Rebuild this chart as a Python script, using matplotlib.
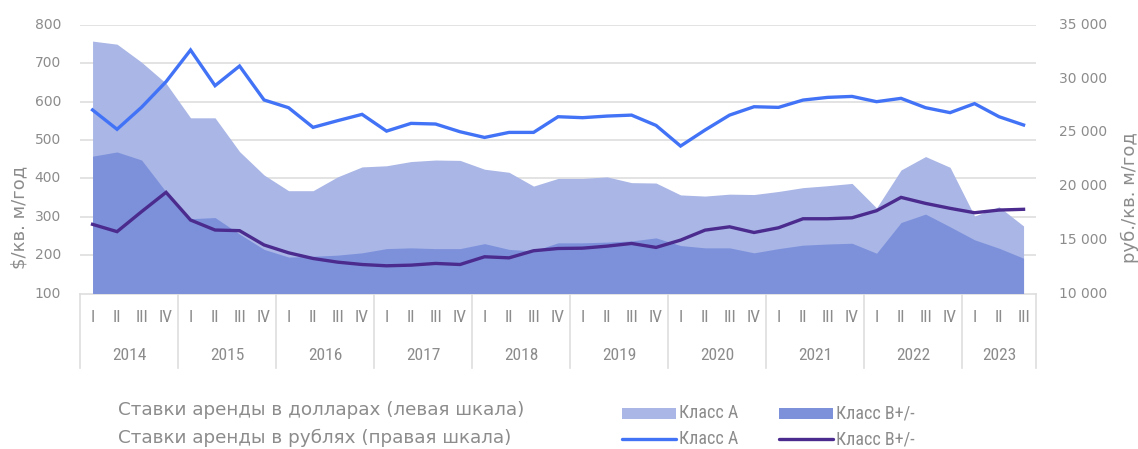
import matplotlib
matplotlib.use("Agg")
import matplotlib.pyplot as plt
from matplotlib.patches import Rectangle
from matplotlib.lines import Line2D
from matplotlib.transforms import blended_transform_factory
import numpy as np

years = [2014, 2015, 2016, 2017, 2018, 2019, 2020, 2021, 2022, 2023]
quarter_names = ["I", "II", "III", "IV"]
quarters_per_year = [4, 4, 4, 4, 4, 4, 4, 4, 4, 3]

usd_class_a = [758, 750, 703, 648, 558, 558, 470, 409, 368, 368,
               404, 430, 433, 444, 448, 447, 424, 416, 380, 400,
               400, 404, 389, 388, 357, 354, 359, 358, 366, 376,
               381, 387, 323, 422, 457, 429, 302, 326, 276]
usd_class_b = [458, 469, 448, 365, 295, 298, 255, 215, 195, 197,
               200, 206, 217, 219, 217, 217, 230, 215, 211, 232,
               232, 234, 237, 245, 225, 219, 219, 206, 217, 226,
               229, 231, 205, 285, 307, 274, 240, 218, 192]
rub_class_a = [27090, 25290, 27340, 29720, 32670, 29350, 31180, 28020, 27300, 25470,
               26090, 26680, 25120, 25840, 25780, 25060, 24530, 25000, 25000, 26460,
               26370, 26520, 26610, 25650, 23730, 25220, 26610, 27390, 27330, 28010,
               28260, 28350, 27860, 28170, 27300, 26840, 27680, 26460, 25690]
rub_class_b = [16440, 15760, 17620, 19420, 16840, 15910, 15850, 14520, 13790, 13260,
               12920, 12700, 12580, 12640, 12800, 12700, 13420, 13320, 13980, 14190,
               14220, 14410, 14660, 14290, 14970, 15900, 16210, 15680, 16120, 16960,
               16960, 17050, 17710, 18950, 18390, 17930, 17520, 17770, 17840]

left_ticks = [100, 200, 300, 400, 500, 600, 700, 800]
right_ticks = [10000, 15000, 20000, 25000, 30000, 35000]

legend_row1 = "Ставки аренды в долларах (левая шкала)"
legend_row2 = "Ставки аренды в рублях (правая шкала)"
series_names = ["Класс А", "Класс В+/-"]
left_label = "$/кв. м/год"
right_label = "руб./кв. м/год"

C_LIGHT = "#A9B6E6"
C_DARK = "#7D91DB"
C_BLUE = "#4273F7"
C_PURPLE = "#4B2B8E"
C_TEXT = "#8C8C8C"
C_GRID = "#DEDEDE"

NARROW = ["Roboto Condensed", "DejaVu Sans"]
WIDE = ["DejaVu Sans"]

W, H = 1138, 449
fig = plt.figure(figsize=(W / 100, H / 100), dpi=100)
ax_l, ax_r, ax_t, ax_b = 80.3, 1035.8, 25, 293.5
ax = fig.add_axes([ax_l / W, 1 - ax_b / H, (ax_r - ax_l) / W, (ax_b - ax_t) / H])


def fx(px):
    return px / W


def fy(py):
    return 1 - py / H


n = len(usd_class_a)
x = np.arange(n)

ax.set_ylim(100, 800)
ax.set_xlim(-0.5, n - 0.5)
ax.fill_between(x, usd_class_a, 100, color=C_LIGHT, lw=0, zorder=2)
ax.fill_between(x, usd_class_b, 100, color=C_DARK, lw=0, zorder=3)
for v in left_ticks[1:]:
    ax.axhline(v, color=C_GRID, lw=1.2, zorder=1)
ax.set_yticks([])
ax.set_xticks([])
for s in ["top", "left", "right", "bottom"]:
    ax.spines[s].set_visible(False)

ax2 = ax.twinx()
ax2.set_ylim(10000, 35000)
ax2.set_xlim(-0.5, n - 0.5)
ax2.plot(x, rub_class_a, color=C_BLUE, lw=2.4, solid_joinstyle="miter", zorder=5)
ax2.plot(x, rub_class_b, color=C_PURPLE, lw=2.4, solid_joinstyle="miter", zorder=5)
ax2.set_yticks([])
for s in ["top", "left", "right", "bottom"]:
    ax2.spines[s].set_visible(False)

# tick labels placed by data value through each axis' own scale
tl = blended_transform_factory(fig.transFigure, ax.transData)
for v in left_ticks:
    fig.text(fx(61), v, str(v), transform=tl, ha="right", va="center",
             fontsize=10, color=C_TEXT, family=WIDE)
tr = blended_transform_factory(fig.transFigure, ax2.transData)
for v in right_ticks:
    fig.text(fx(1059), v, f"{v:,}".replace(",", " "), transform=tr, ha="left", va="center",
             fontsize=10, color=C_TEXT, family=WIDE)

fig.text(fx(19), fy(217), left_label, fontsize=13, color=C_TEXT, family=WIDE,
         rotation=90, ha="center", va="center")
fig.text(fx(1130), fy(198), right_label, fontsize=13, color=C_TEXT, family=WIDE,
         rotation=90, ha="center", va="center")

# category axis: axis line, year separators, quarter and year labels
trans = ax.get_xaxis_transform()
sep_depth = (368 - ax_b) / (ax_b - ax_t)
ax.plot([-0.5, n - 0.5], [0, 0], transform=trans, color=C_GRID, lw=1.2, clip_on=False)
pos = -0.5
q_y = -(318 - ax_b) / (ax_b - ax_t)
y_y = -(355 - ax_b) / (ax_b - ax_t)
ax.plot([pos, pos], [0, -sep_depth], transform=trans, color=C_GRID, lw=1.2, clip_on=False)
for yr, nq in zip(years, quarters_per_year):
    for q in range(nq):
        ax.text(pos + 0.5 + q, q_y, quarter_names[q], transform=trans, ha="center", va="center",
                fontsize=12.5, color=C_TEXT, family=NARROW)
    ax.text(pos + nq / 2, y_y, str(yr), transform=trans, ha="center", va="center",
            fontsize=12.5, color=C_TEXT, family=NARROW)
    pos += nq
    ax.plot([pos, pos], [0, -sep_depth], transform=trans, color=C_GRID, lw=1.2, clip_on=False)

# legend
fig.text(fx(118), fy(410), legend_row1, fontsize=13.2, color=C_TEXT, family=WIDE, va="center")
fig.text(fx(118), fy(438), legend_row2, fontsize=13.2, color=C_TEXT, family=WIDE, va="center")

for px, col, name in [(622, C_LIGHT, series_names[0]), (779, C_DARK, series_names[1])]:
    fig.patches.append(Rectangle((fx(px), fy(419)), 54 / W, 11 / H, transform=fig.transFigure,
                                 color=col, lw=0))
    fig.text(fx(px + 57), fy(413), name, fontsize=13, color=C_TEXT, family=NARROW, va="center")
for px, col, name in [(622, C_BLUE, series_names[0]), (779, C_PURPLE, series_names[1])]:
    fig.lines.append(Line2D([fx(px), fx(px + 54)], [fy(439), fy(439)], transform=fig.transFigure,
                            color=col, lw=2.4, solid_capstyle="round"))
    fig.text(fx(px + 57), fy(439), name, fontsize=13, color=C_TEXT, family=NARROW, va="center")

fig.savefig("out.png", dpi=100, facecolor="white")
